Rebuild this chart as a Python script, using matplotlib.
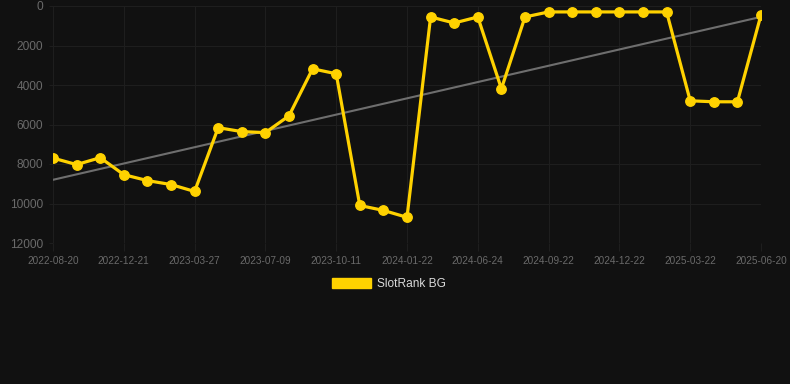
import matplotlib
matplotlib.use("Agg")
import matplotlib.pyplot as plt
from matplotlib.patches import Patch
import numpy as np

plt.rcParams['font.family'] = ['Liberation Sans', 'DejaVu Sans']

dates = ["2022-08-20", "2022-09-21", "2022-10-22", "2022-12-21", "2023-01-22", "2023-02-22",
         "2023-03-27", "2023-04-27", "2023-06-05", "2023-07-09", "2023-08-09", "2023-09-10",
         "2023-10-11", "2023-11-12", "2023-12-20", "2024-01-22", "2024-02-25", "2024-04-10",
         "2024-06-24", "2024-07-25", "2024-08-25", "2024-09-22", "2024-10-22", "2024-11-22",
         "2024-12-22", "2025-01-22", "2025-02-22", "2025-03-22", "2025-04-22", "2025-05-22",
         "2025-06-20"]
ranks = [7700, 8030, 7680, 8540, 8840, 9040, 9390, 6160, 6360, 6410, 5560, 3180, 3430,
         10100, 10350, 10700, 555, 860, 555, 4190, 555, 300, 300, 300, 300, 300, 300,
         4800, 4850, 4850, 450]
series_name = "SlotRank BG"
yticks = [0, 2000, 4000, 6000, 8000, 10000, 12000]

BG = "#111111"
GRID = "#1e1e1e"
TXT = "#6a6a6a"
GOLD = "#FFD200"

fig = plt.figure(figsize=(7.9, 3.84), dpi=100, facecolor=BG)
ax = fig.add_axes([53/790, 1-243/384, (761-53)/790, (243-6)/384])
ax.set_facecolor(BG)

x = np.arange(len(ranks))
coef = np.polyfit(x, ranks, 1)
ax.plot(x, np.polyval(coef, x), color="#6e6e6e", lw=1.5, zorder=2)
ax.plot(x, ranks, color=GOLD, lw=2.3, marker="o", ms=6.8, zorder=3)

ax.set_xlim(0, len(ranks)-1)
ax.set_ylim(12000, 0)
ax.set_yticks(yticks)
ax.set_yticklabels([str(v) for v in yticks])
tick_idx = list(range(0, len(dates), 3))
ax.set_xticks(tick_idx)
ax.set_xticklabels([dates[i] for i in tick_idx])

ax.grid(True, color=GRID, lw=0.8)
for s in ax.spines.values():
    s.set_visible(False)
ax.tick_params(axis="y", colors=GRID, labelcolor=TXT, labelsize=8.6, length=3, width=0.8, pad=4)
ax.tick_params(axis="x", colors=GRID, labelcolor=TXT, labelsize=7.2, length=6, width=0.8, pad=3)

h = Patch(facecolor=GOLD, edgecolor=GOLD)
leg = fig.legend([h], [series_name], loc="center", bbox_to_anchor=(389/790, 1-284/384),
                 frameon=False, fontsize=8.6, handlelength=3.3, handleheight=1.0,
                 handletextpad=0.5, labelcolor="#dadada")

fig.savefig("out.png", dpi=100, facecolor=BG)
